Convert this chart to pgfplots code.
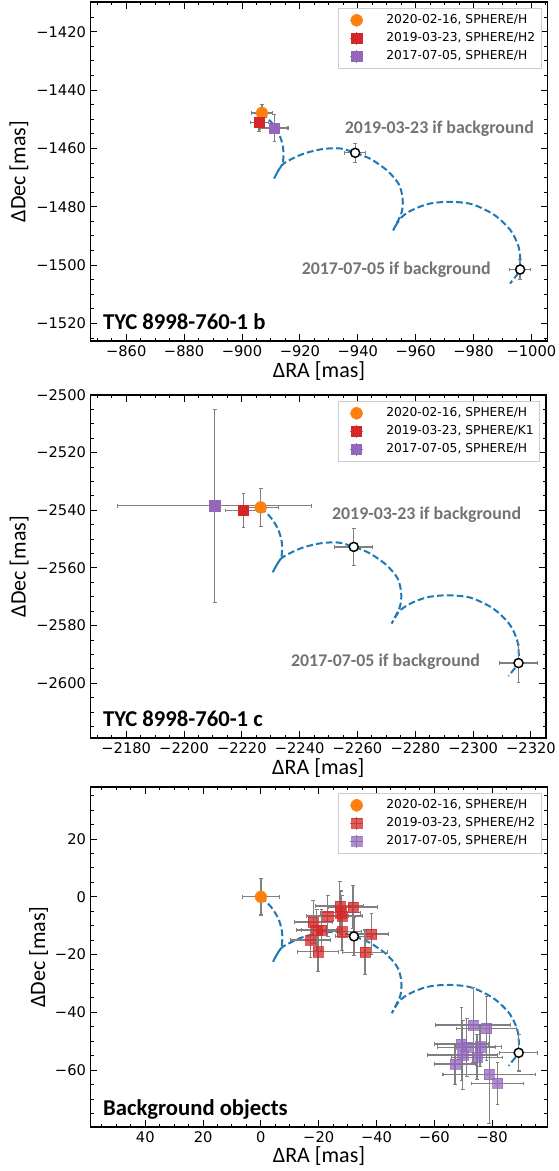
\documentclass[border=0pt]{standalone}
\usepackage{fontspec}
\setmainfont{DejaVu Sans}
\newfontfamily\carlito{Carlito}
\usepackage{pgfplots}
\pgfplotsset{compat=1.18}
\definecolor{tabblue}{HTML}{1F77B4}
\definecolor{taborange}{HTML}{FF7F0E}
\definecolor{tabred}{HTML}{D62728}
\definecolor{tabpurple}{HTML}{9467BD}
\definecolor{errgray}{HTML}{808080}
\definecolor{anngray}{HTML}{737373}
\definecolor{leggray}{HTML}{CCCCCC}
\tikzset{
 ann/.style={font=\carlito\bfseries\fontsize{13.4}{15}\selectfont, text=anngray, inner sep=0pt},
 plab/.style={font=\carlito\bfseries\fontsize{17}{19}\selectfont, anchor=base west, inner sep=0pt},
}
\pgfplotsset{
 panel/.style={
  scale only axis, anchor=north west, x dir=reverse,
  axis line style={line width=0.9pt},
  tick align=inside, tick pos=both,
  major tick length=5pt, minor tick length=2.6pt,
  every tick/.style={black, line width=0.75pt},
  tick label style={font=\fontsize{11}{13}\selectfont},
  xlabel style={font=\carlito\fontsize{16.5}{18}\selectfont, anchor=center},
  ylabel style={font=\carlito\fontsize{16.5}{18}\selectfont, anchor=center},
  xlabel={ΔRA [mas]}, ylabel={ΔDec [mas]},
  legend cell align=left,
  legend style={at={(1,1)}, anchor=north east, xshift=-4.3pt, yshift=-4.3pt,
    draw=leggray, line width=0.75pt, fill=white,
    font=\fontsize{9.2}{11}\selectfont, inner xsep=3pt, inner ysep=3pt, row sep=1.5pt,
    nodes={inner sep=1.5pt, text height=7pt, text depth=2pt},
    /tikz/every odd column/.append style={column sep=15.5pt}},
  legend image code/.code={%
    \path[draw=none, fill=none] (-5.5pt,0pt) -- (-5.4pt,0pt);
    \draw[errgray, line width=0.9pt, sharp corners] (0cm,0cm) -- (0.34cm,0cm) (0.17cm,-0.17cm) -- (0.17cm,0.17cm);
    \draw[sharp corners, #1] plot coordinates {(0.17cm,0cm)};
  },
 },
 track/.style={tabblue, line width=1.5pt, dash pattern=on 5pt off 2.4pt, smooth, tension=0.5, no marks, forget plot},
 errb/.style={error bars/x dir=both, error bars/x explicit, error bars/y dir=both, error bars/y explicit,
   error bars/error bar style={line width=1pt, errgray, solid},
   error bars/error mark options={rotate=90, mark size=1.4pt, line width=0.8pt, errgray}},
 bgpt/.style={only marks, mark=*, mark size=3.4pt, mark options={fill=white, draw=black, line width=1.1pt}, forget plot, errb},
 orpt/.style={only marks, mark=*, mark size=4.4pt, mark options={fill=taborange, draw=taborange, line width=0.3pt}, errb},
 rdpt/.style={only marks, mark=square*, mark size=3.8pt, mark options={fill=tabred, draw=tabred, line width=0.3pt}, errb},
 pupt/.style={only marks, mark=square*, mark size=3.8pt, mark options={fill=tabpurple, draw=tabpurple, line width=0.3pt}, errb},
 rdtr/.style={only marks, mark=square*, mark size=3.8pt, mark options={fill=tabred, draw=tabred, line width=0.3pt, fill opacity=0.75, draw opacity=0.75}, errb},
 putr/.style={only marks, mark=square*, mark size=3.8pt, mark options={fill=tabpurple, draw=tabpurple, line width=0.3pt, fill opacity=0.75, draw opacity=0.75}, errb},
}
\begin{document}
\begin{tikzpicture}
\path[use as bounding box] (0pt,0pt) rectangle (418.5pt,-878.25pt);
% ---------------- top panel ----------------
\begin{axis}[panel, at={(68pt,-1.5pt)}, width=342.5pt, height=254.25pt,
  xlabel style={at={(axis description cs:0.5,-0.0885)}},
  ylabel style={at={(axis description cs:-0.157,0.5)}},
  xmin=-1005.5, xmax=-847.7, ymin=-1526, ymax=-1409.8,
  xtick={-860,-880,-900,-920,-940,-960,-980,-1000},
  xticklabels={−860,−880,−900,−920,−940,−960,−980,−1000},
  ytick={-1420,-1440,-1460,-1480,-1500,-1520},
  yticklabels={−1420,−1440,−1460,−1480,−1500,−1520},
  minor xtick={-1005,-1000,...,-850}, minor ytick={-1525,-1520,...,-1410}]
\addplot[track] coordinates {(-906.9,-1447.8) (-910.4,-1451.3) (-912.9,-1455.3) (-914.2,-1459.8) (-914.1,-1464.8) (-912.4,-1467.8) (-911.1,-1470.3) (-913.7,-1465.8) (-917.2,-1463.6) (-921.9,-1461.6) (-927.9,-1460.2) (-933.9,-1460.0) (-939.1,-1461.5) (-944.4,-1463.6) (-950.2,-1467.6) (-954.2,-1472.3) (-955.5,-1477.3) (-955.1,-1482.1) (-952.2,-1488.1) (-954.7,-1484.0) (-958.4,-1481.3) (-964.4,-1479.0) (-971.4,-1478.3) (-979.4,-1479.1) (-987.2,-1482.8) (-992.9,-1488.2) (-995.6,-1493.8) (-996.2,-1498.8) (-996.1,-1501.5) (-994.4,-1504.1) (-992.6,-1506.3)};
\addplot[bgpt] table[row sep=\\, x=x, y=y, x error=ex, y error=ey] {x y ex ey\\ -939.1 -1461.5 3.6 3.3\\ -996.1 -1501.5 3.7 3.3\\};
\addplot[orpt] table[row sep=\\, x=x, y=y, x error=ex, y error=ey] {x y ex ey\\ -906.9 -1447.8 3.5 3.0\\};
\addlegendentry{2020-02-16, SPHERE/H}
\addplot[rdpt] table[row sep=\\, x=x, y=y, x error=ex, y error=ey] {x y ex ey\\ -905.9 -1451.1 3.1 3.0\\};
\addlegendentry{2019-03-23, SPHERE/H2}
\addplot[pupt] table[row sep=\\, x=x, y=y, x error=ex, y error=ey] {x y ex ey\\ -911.2 -1453.0 4.7 4.5\\};
\addlegendentry{2017-07-05, SPHERE/H}
\node[ann] at (axis cs:-968.2,-1453.1) {2019-03-23 if background};
\node[ann] at (axis cs:-953.3,-1501.7) {2017-07-05 if background};
\node[plab] at ([xshift=9.2pt, yshift=8.5pt]axis description cs:0,0) {TYC 8998-760-1 b};
\end{axis}
% ---------------- middle panel ----------------
\begin{axis}[panel, at={(68pt,-296.25pt)}, width=341.5pt, height=257.25pt,
  xlabel style={at={(axis description cs:0.5,-0.0875)}},
  ylabel style={at={(axis description cs:-0.157,0.5)}},
  xmin=-2325.2, xmax=-2167.7, ymin=-2619, ymax=-2500,
  xtick={-2180,-2200,-2220,-2240,-2260,-2280,-2300,-2320},
  xticklabels={−2180,−2200,−2220,−2240,−2260,−2280,−2300,−2320},
  ytick={-2500,-2520,-2540,-2560,-2580,-2600},
  yticklabels={−2500,−2520,−2540,−2560,−2580,−2600},
  minor xtick={-2325,-2320,...,-2165}, minor ytick={-2615,-2610,...,-2500}]
\addplot[track] coordinates {(-2226.5,-2539.0) (-2230.0,-2542.5) (-2232.5,-2546.5) (-2233.8,-2551.0) (-2233.7,-2556.0) (-2232.0,-2559.0) (-2230.7,-2561.5) (-2233.3,-2557.0) (-2236.8,-2554.8) (-2241.5,-2552.8) (-2247.5,-2551.4) (-2253.5,-2551.2) (-2258.7,-2552.7) (-2264.0,-2554.8) (-2269.8,-2558.8) (-2273.8,-2563.5) (-2275.1,-2568.5) (-2274.7,-2573.3) (-2271.8,-2579.3) (-2274.3,-2575.2) (-2278.0,-2572.5) (-2284.0,-2570.2) (-2291.0,-2569.5) (-2299.0,-2570.3) (-2306.8,-2574.0) (-2312.5,-2579.4) (-2315.2,-2585.0) (-2315.8,-2590.0) (-2315.7,-2593.0) (-2314.0,-2595.3) (-2312.2,-2597.5)};
\addplot[bgpt] table[row sep=\\, x=x, y=y, x error=ex, y error=ey] {x y ex ey\\ -2258.7 -2552.7 6.6 6.5\\ -2315.7 -2593.0 6.6 6.6\\};
\addplot[orpt] table[row sep=\\, x=x, y=y, x error=ex, y error=ey] {x y ex ey\\ -2226.5 -2539.0 6.3 6.6\\};
\addlegendentry{2020-02-16, SPHERE/H}
\addplot[rdpt] table[row sep=\\, x=x, y=y, x error=ex, y error=ey] {x y ex ey\\ -2220.6 -2540.1 6.1 6.0\\};
\addlegendentry{2019-03-23, SPHERE/K1}
\addplot[pupt] table[row sep=\\, x=x, y=y, x error=ex, y error=ey] {x y ex ey\\ -2210.6 -2538.4 33.6 33.5\\};
\addlegendentry{2017-07-05, SPHERE/H}
\node[ann] at (axis cs:-2283.9,-2541.4) {2019-03-23 if background};
\node[ann] at (axis cs:-2269.7,-2592.5) {2017-07-05 if background};
\node[plab] at ([xshift=9.2pt, yshift=8.5pt]axis description cs:0,0) {TYC 8998-760-1 c};
\end{axis}
% ---------------- bottom panel ----------------
\begin{axis}[panel, at={(68pt,-590.25pt)}, width=342.5pt, height=255pt,
  xlabel style={at={(axis description cs:0.5,-0.085)}},
  ylabel style={at={(axis description cs:-0.114,0.5)}},
  xmin=-99.1, xmax=58.9, ymin=-79.7, ymax=38.0,
  xtick={40,20,0,-20,-40,-60,-80},
  xticklabels={40,20,0,−20,−40,−60,−80},
  ytick={20,0,-20,-40,-60},
  yticklabels={20,0,−20,−40,−60},
  minor xtick={-95,-90,...,55}, minor ytick={-75,-70,...,35}]
\addplot[track] coordinates {(0,0) (-3.5,-3.5) (-6.0,-7.5) (-7.3,-12.0) (-7.2,-17.0) (-5.5,-20.0) (-4.2,-22.5) (-6.8,-18.0) (-10.3,-15.8) (-15.0,-13.8) (-21.0,-12.4) (-27.0,-12.2) (-32.2,-13.7) (-37.5,-15.8) (-43.3,-19.8) (-47.3,-24.5) (-48.6,-29.5) (-48.2,-34.3) (-45.3,-40.3) (-47.8,-36.2) (-51.5,-33.5) (-57.5,-31.2) (-64.5,-30.5) (-72.5,-31.3) (-80.3,-35.0) (-86.0,-40.4) (-88.7,-46.0) (-89.3,-51.0) (-89.2,-54.0) (-87.5,-56.3) (-85.7,-58.5)};
\addplot[bgpt] table[row sep=\\, x=x, y=y, x error=ex, y error=ey] {x y ex ey\\ -32.2 -13.7 6.5 6.5\\ -89.2 -54.0 6.5 6.3\\};
\addplot[orpt] table[row sep=\\, x=x, y=y, x error=ex, y error=ey] {x y ex ey\\ 0 0 6.3 6.3\\};
\addlegendentry{2020-02-16, SPHERE/H}
\addplot[rdtr] table[row sep=\\, x=x, y=y, x error=ex, y error=ey] {x y ex ey\\
 -27.3 -3.2 8.3 8.4\\ -31.9 -3.5 8.6 7.5\\ -23.1 -6.7 7.2 7.2\\ -27.6 -5.5 7.0 7.5\\ -28.0 -6.7 7.0 7.0\\
 -18.1 -8.7 6.6 7.5\\ -19.3 -11.5 7.0 7.0\\ -21.0 -11.5 7.0 7.0\\ -28.1 -12.1 6.7 6.4\\ -38.3 -12.9 6.0 7.1\\
 -17.2 -15.0 7.0 6.0\\ -19.8 -19.0 7.0 7.0\\ -36.0 -19.2 7.7 7.7\\};
\addlegendentry{2019-03-23, SPHERE/H2}
\addplot[putr] table[row sep=\\, x=x, y=y, x error=ex, y error=ey] {x y ex ey\\
 -73.5 -44.4 13.0 13.0\\ -78.1 -45.6 10.4 11.0\\ -69.4 -51.0 9.2 12.7\\ -71.2 -52.1 10.0 10.0\\ -75.8 -51.9 7.5 7.0\\
 -69.8 -54.8 12.0 12.0\\ -74.8 -55.6 8.7 7.8\\ -67.1 -57.9 7.0 7.0\\ -79.0 -61.5 16.0 17.0\\ -81.9 -64.6 9.0 7.2\\};
\addlegendentry{2017-07-05, SPHERE/H}
\node[plab] at ([xshift=9.2pt, yshift=8.5pt]axis description cs:0,0) {Background objects};
\end{axis}
\end{tikzpicture}
\end{document}
